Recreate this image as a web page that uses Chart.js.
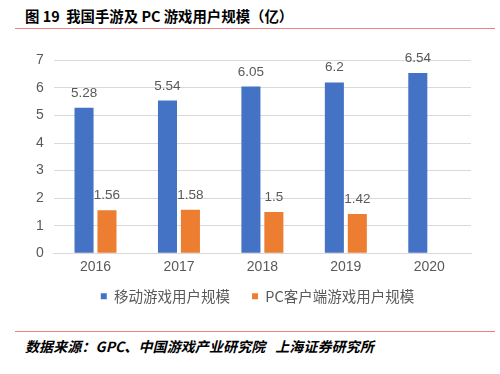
<!DOCTYPE html>
<html><head><meta charset="utf-8">
<script src="https://cdn.jsdelivr.net/npm/chart.js@4/dist/chart.umd.min.js"></script>
<style>
body{margin:0;width:500px;height:374px;background:#fff;position:relative;overflow:hidden;font-family:"Noto Sans CJK SC",sans-serif;}
#title{position:absolute;left:25px;top:5px;font-size:14.4px;font-weight:bold;color:#000;white-space:nowrap;}
.rule{position:absolute;left:15px;width:480px;height:1px;background:#f08080;}
#foot{position:absolute;left:25px;top:336px;font-size:14px;font-weight:bold;font-style:italic;color:#000;white-space:nowrap;letter-spacing:0.1px;}
#wrap{position:absolute;left:0;top:42px;width:490px;height:272px;}
</style></head><body>
<div id="title">图 19 &nbsp;我国手游及 PC 游戏用户规模（亿）</div>
<div class="rule" style="top:28px"></div>
<div id="wrap"><canvas id="c"></canvas></div>
<div class="rule" style="top:331px"></div>
<div id="foot">数据来源：GPC、中国游戏产业研究院 &nbsp;&nbsp;上海证券研究所</div>
<script>
const categories = ["2016","2017","2018","2019","2020"];
const mobileUsers = [5.28,5.54,6.05,6.2,6.54];
const pcUsers = [1.56,1.58,1.5,1.42,null];
const seriesNames = ["移动游戏用户规模","PC客户端游戏用户规模"];
const yTicks = [0,1,2,3,4,5,6,7];

const valueLabels = {
  id:'valueLabels',
  afterDatasetsDraw(chart){
    const ctx = chart.ctx;
    ctx.save();
    ctx.font = '13.5px "Liberation Sans", Arial, sans-serif';
    ctx.fillStyle = '#595959';
    ctx.textAlign = 'center';
    ctx.textBaseline = 'bottom';
    chart.data.datasets.forEach((ds,i)=>{
      const meta = chart.getDatasetMeta(i);
      meta.data.forEach((el,j)=>{
        const v = ds.data[j];
        if(v==null) return;
        ctx.fillText(String(v), el.x, el.y-8);
      });
    });
    ctx.restore();
  }
};

// legend: wide horizontal gap between items, compact vertical box
const legendTweak = {
  id:'legendTweak',
  beforeLayout(chart){
    const lg = chart.legend;
    if(lg && !lg._tweaked){
      const f = lg.fit;
      lg.fit = function(){ f.call(this); this.height = 32; };
      lg._tweaked = true;
    }
  },
  afterLayout(chart){
    const lg = chart.legend;
    if(!lg) return;
    const t = 225;
    lg.top = t; lg.height = 46; lg.bottom = t + lg.height;
    lg.left += 9; lg.right += 9;
  }
};

new Chart(document.getElementById('c'),{
  type:'bar',
  data:{labels:categories,datasets:[
    {label:seriesNames[0],data:mobileUsers,backgroundColor:'#4472C4',categoryPercentage:0.55,barPercentage:0.83},
    {label:seriesNames[1],data:pcUsers,backgroundColor:'#ED7D31',categoryPercentage:0.55,barPercentage:0.83}
  ]},
  options:{
    responsive:true,maintainAspectRatio:false,animation:false,
    layout:{padding:{left:26,right:19,top:10,bottom:0}},
    plugins:{
      legend:{position:'bottom',labels:{boxWidth:6,boxHeight:6,color:'#595959',font:{size:14.5,family:'"Noto Sans CJK SC", sans-serif'},padding:22}},
      tooltip:{enabled:false}
    },
    scales:{
      x:{grid:{display:false,drawTicks:false},border:{color:'#d9d9d9'},ticks:{color:'#595959',font:{size:14,family:'"Liberation Sans", Arial, sans-serif'},padding:6}},
      y:{min:0,max:7,afterBuildTicks(ax){ax.ticks=yTicks.map(v=>({value:v}));},grid:{color:'#d9d9d9',drawTicks:false},border:{display:false},ticks:{color:'#595959',font:{size:14,family:'"Liberation Sans", Arial, sans-serif'},padding:10}}
    }
  },
  plugins:[valueLabels,legendTweak]
});
</script>
</body></html>
